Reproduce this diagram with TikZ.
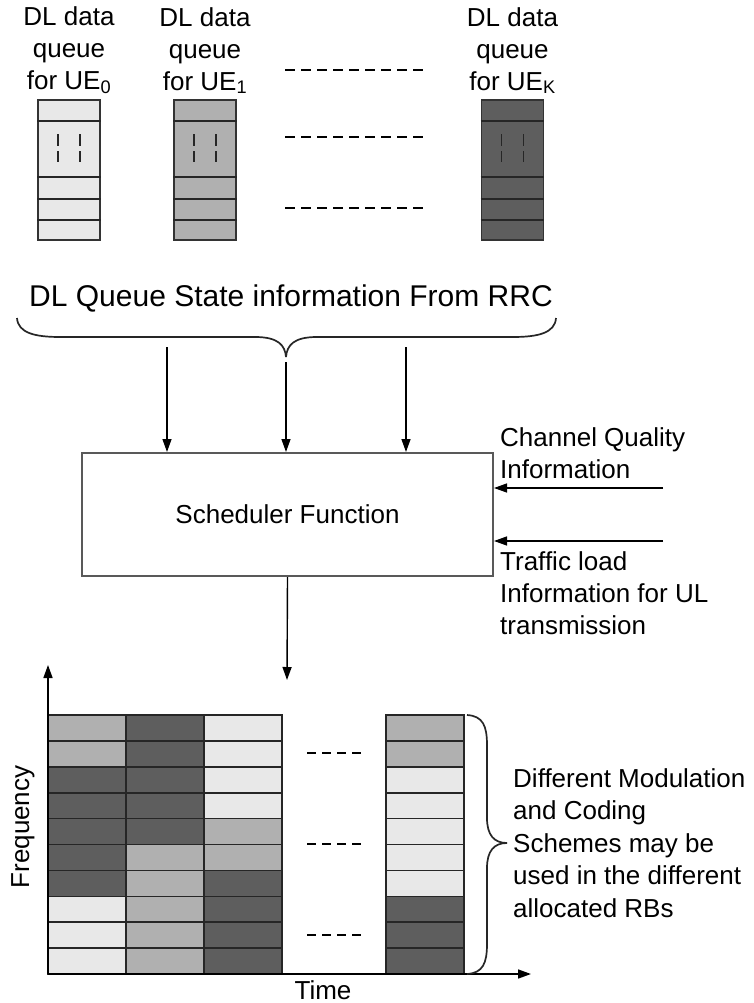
\documentclass[tikz,border=0pt]{standalone}
\usepackage{fontspec}
\setmainfont{Liberation Sans}
\usetikzlibrary{arrows.meta, positioning, calc}

\definecolor{rbl}{HTML}{E8E8E8}
\definecolor{rbm}{HTML}{B0B0B0}
\definecolor{rbd}{HTML}{5E5E5E}

\begin{document}
\begin{tikzpicture}[
  x=1pt, y=-1pt,
  every node/.style={font=\fontsize{26}{32}\selectfont, inner sep=0pt},
  queue/.style={draw=black!80, line width=1.6pt, minimum width=62pt, minimum height=140pt},
  qlabel/.style={align=center},
  qline/.style={black!85, line width=1.6pt},
  qdash/.style={black!85, line width=1.5pt, dash pattern=on 12pt off 5pt},
  gap/.style={line width=1.2pt, dash pattern=on 10pt off 6pt},
  sched/.style={draw=black!65, line width=2pt, minimum width=411pt, minimum height=123pt},
  arr/.style={-{Triangle[length=13pt, width=9pt]}, line width=1.4pt},
  cell/.style={draw=black!85, line width=1.6pt},
  brace/.style={line width=1.7pt, black!85},
]
  \useasboundingbox (0,0) rectangle (753,1003);

  % queues of the UEs
  \node[queue, fill=rbl] (q0) at (69,170) {};
  \node[queue, fill=rbm] (q1) at (205,170) {};
  \node[queue, fill=rbd] (qK) at (512.5,170) {};
  \foreach \q in {q0,q1,qK} {
    \foreach \d in {22,78,100,121}
      \draw[qline] ([yshift=-\d pt]\q.north west) -- ([yshift=-\d pt]\q.north east);
    \draw[qdash] ([xshift=-11pt,yshift=-35pt]\q.north) -- ++(0,28);
    \draw[qdash] ([xshift=11pt,yshift=-35pt]\q.north) -- ++(0,28);
  }
  \node[qlabel, above=5pt of q0] (l0) {DL data\\queue\\for UE\textsubscript{0}};
  \node[qlabel, above=5pt of q1] (l1) {DL data\\queue\\for UE\textsubscript{1}};
  \node[qlabel, above=5pt of qK] (lK) {DL data\\queue\\for UE\textsubscript{K}};

  \draw[gap] (285,70) -- (423,70);
  \draw[gap] (285,137) -- (423,137);
  \draw[gap] (285,208) -- (423,208);

  % queue state info
  \node[font=\fontsize{30}{36}\selectfont] (dlqs) at (291,298) {DL Queue State information From RRC};
  \draw[brace] (17,318) .. controls (18,333) and (35,337) .. (60,337) -- (255,337)
    .. controls (278,337) and (285,345) .. (286,357);
  \draw[brace] (556,318) .. controls (555,333) and (538,337) .. (513,337) -- (317,337)
    .. controls (294,337) and (287,345) .. (286,357);

  \node[sched] (sched) at (287.5,514.5) {Scheduler Function};

  \coordinate (a1) at (167,347);
  \coordinate (a2) at (286,362);
  \coordinate (a3) at (406,347);
  \draw[arr] (a1) -- (a1 |- sched.north);
  \draw[arr] (a2) -- (a2 |- sched.north);
  \draw[arr] (a3) -- (a3 |- sched.north);

  \coordinate (cqi) at (663,488);
  \coordinate (tli) at (663,541);
  \draw[arr] (cqi) -- (cqi -| sched.east);
  \draw[arr] (tli) -- (tli -| sched.east);
  \node[anchor=west, align=left] (cqil) at (500,453) {Channel Quality\\Information};
  \node[anchor=west, align=left] (tlil) at (500,593) {Traffic load\\Information for UL\\transmission};

  \coordinate (rbtop) at (287,680);
  \draw[arr] (sched.south) -- (rbtop);

  % resource blocks
  \foreach \pat/\x in {{m,m,d,d,d,d,d,l,l,l}/48, {d,d,d,d,d,m,m,m,m,m}/126,
                       {l,l,l,l,m,m,d,d,d,d}/204, {m,m,l,l,l,l,l,d,d,d}/386}
    \foreach \c [count=\r from 0] in \pat
      \draw[cell, fill=rb\c] (\x,715+25.9*\r) rectangle ++(78,25.9);

  \coordinate (orig) at (48,974);
  \coordinate (fmax) at (48,665);
  \coordinate (tmax) at (531,974);
  \draw[arr, line width=1.6pt] (orig) -- (fmax);
  \draw[arr, line width=1.6pt] (orig) -- (tmax);
  \node[rotate=90] (freq) at (23,827) {Frequency};
  \node (time) at (323,990) {Time};

  \draw[gap, dash pattern=on 9pt off 6pt] (307,753) -- (362,753);
  \draw[gap, dash pattern=on 9pt off 6pt] (307,844) -- (362,844);
  \draw[gap, dash pattern=on 9pt off 6pt] (307,935) -- (362,935);

  \draw[brace] (467,715) .. controls (483,716) and (487,726) .. (487,745) -- (487,818)
    .. controls (487,835) and (494,843) .. (507,843);
  \draw[brace] (467,974) .. controls (483,973) and (487,963) .. (487,944) -- (487,868)
    .. controls (487,851) and (494,843) .. (507,843);
  \node[anchor=west, align=left, font=\fontsize{26}{32.5}\selectfont] (mcs) at (513,843)
    {Different Modulation\\and Coding\\Schemes may be\\used in the different\\allocated RBs};
\end{tikzpicture}
\end{document}
